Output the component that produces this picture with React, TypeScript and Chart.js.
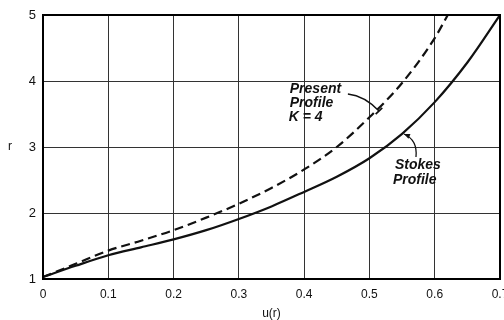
import React, { useEffect, useRef } from "react";
import { Chart, registerables } from "chart.js";

Chart.register(...registerables);

// x-axis: u(r), y-axis: r
const uTicks = [0, 0.1, 0.2, 0.3, 0.4, 0.5, 0.6, 0.7];
const uTickLabels = ["0", "0.1", "0.2", "0.3", "0.4", "0.5", "0.6", "0.7"];
const rTicks = [1, 2, 3, 4, 5];
const rTickLabels = ["1", "2", "3", "4", "5"];

// Stokes Profile (solid)
const stokesU = [0, 0.05, 0.1, 0.15, 0.2, 0.25, 0.3, 0.35, 0.4, 0.45, 0.5, 0.55, 0.6, 0.65, 0.7];
const stokesR = [1.03, 1.2, 1.36, 1.48, 1.6, 1.74, 1.91, 2.1, 2.32, 2.55, 2.83, 3.2, 3.68, 4.28, 5.0];

// Present Profile K = 4 (dashed)
const presentU = [0, 0.05, 0.1, 0.15, 0.2, 0.25, 0.3, 0.35, 0.4, 0.45, 0.5, 0.55, 0.6, 0.62];
const presentR = [1.03, 1.23, 1.43, 1.58, 1.74, 1.93, 2.14, 2.38, 2.66, 3.0, 3.45, 3.97, 4.65, 5.0];

// annotation texts and anchors (data units)
const presentLabel = ["Present", "Profile", "K = 4"];
const presentLabelAt = [0.378, 3.818];
const presentArrow = [0.467, 3.803, 0.493, 3.773, 0.5146, 3.545]; // start, control, end
const stokesLabel = ["Stokes", "Profile"];
const stokesLabelAt = [0.539, 2.667];
const stokesArrow = [0.5713, 2.848, 0.574, 3.106, 0.5529, 3.197];

const xTitle = "u(r)";
const yTitle = "r";

const FONT = '"Liberation Sans", Arial, "DejaVu Sans", sans-serif';

const decorPlugin = {
  id: "decor",
  afterDraw(chart: any) {
    const ctx = chart.ctx as CanvasRenderingContext2D;
    const a = chart.chartArea;
    const xs = chart.scales.x;
    const ys = chart.scales.y;
    const px = (u: number) => xs.getPixelForValue(u);
    const py = (r: number) => ys.getPixelForValue(r);
    ctx.save();
    // frame
    ctx.strokeStyle = "#000";
    ctx.lineWidth = 2;
    ctx.strokeRect(a.left, a.top, a.right - a.left, a.bottom - a.top);

    // axis titles
    ctx.fillStyle = "#111";
    ctx.font = `12px ${FONT}`;
    ctx.textAlign = "center";
    ctx.textBaseline = "middle";
    ctx.fillText(yTitle, 10, (a.top + a.bottom) / 2);
    ctx.fillText(xTitle, (a.left + a.right) / 2, 314);

    // annotation texts
    ctx.font = `italic bold 14px ${FONT}`;
    ctx.textAlign = "left";
    ctx.textBaseline = "alphabetic";
    const p0x = px(presentLabelAt[0]);
    const p0y = py(presentLabelAt[1]);
    presentLabel.forEach((t, i) => ctx.fillText(t, p0x + (i === 2 ? -1 : 0), p0y + i * 14));
    const s0x = px(stokesLabelAt[0]);
    const s0y = py(stokesLabelAt[1]);
    stokesLabel.forEach((t, i) => ctx.fillText(t, s0x - i * 2, s0y + i * 15));

    // present arrow with T-bar end
    ctx.strokeStyle = "#111";
    ctx.lineWidth = 1.3;
    let [sx, sy, cx, cy, ex, ey] = [
      px(presentArrow[0]), py(presentArrow[1]),
      px(presentArrow[2]), py(presentArrow[3]),
      px(presentArrow[4]), py(presentArrow[5]),
    ];
    ctx.beginPath();
    ctx.moveTo(sx, sy);
    ctx.quadraticCurveTo(cx, cy, ex, ey);
    ctx.stroke();
    let dx = ex - cx, dy = ey - cy;
    let L = Math.hypot(dx, dy);
    dx /= L; dy /= L;
    ctx.lineWidth = 1.8;
    ctx.beginPath();
    ctx.moveTo(ex - dy * 4.5, ey + dx * 4.5);
    ctx.lineTo(ex + dy * 4.5, ey - dx * 4.5);
    ctx.stroke();

    // stokes arrow with arrowhead
    [sx, sy, cx, cy, ex, ey] = [
      px(stokesArrow[0]), py(stokesArrow[1]),
      px(stokesArrow[2]), py(stokesArrow[3]),
      px(stokesArrow[4]), py(stokesArrow[5]),
    ];
    ctx.lineWidth = 1.3;
    ctx.beginPath();
    ctx.moveTo(sx, sy);
    ctx.quadraticCurveTo(cx, cy, ex, ey);
    ctx.stroke();
    dx = ex - cx; dy = ey - cy;
    L = Math.hypot(dx, dy);
    dx /= L; dy /= L;
    ctx.fillStyle = "#111";
    ctx.beginPath();
    ctx.moveTo(ex, ey);
    ctx.lineTo(ex - dx * 6 - dy * 2.5, ey - dy * 6 + dx * 2.5);
    ctx.lineTo(ex - dx * 6 + dy * 2.5, ey - dy * 6 - dx * 2.5);
    ctx.closePath();
    ctx.fill();
    ctx.restore();
  },
};

export default function App() {
  const ref = useRef<HTMLCanvasElement>(null);
  useEffect(() => {
    const chart = new Chart(ref.current as HTMLCanvasElement, {
      type: "line",
      data: {
        datasets: [
          {
            label: "Stokes Profile",
            data: stokesU.map((u, i) => ({ x: u, y: stokesR[i] })),
            borderColor: "#111",
            borderWidth: 2.2,
            pointRadius: 0,
            cubicInterpolationMode: "monotone",
            fill: false,
          },
          {
            label: "Present Profile K = 4",
            data: presentU.map((u, i) => ({ x: u, y: presentR[i] })),
            borderColor: "#111",
            borderWidth: 2.2,
            borderDash: [9, 5],
            pointRadius: 0,
            cubicInterpolationMode: "monotone",
            fill: false,
          },
        ],
      },
      options: {
        animation: false,
        responsive: false,
        devicePixelRatio: 1,
        layout: { padding: { top: 15, right: 4, left: 0, bottom: 0 } },
        plugins: { legend: { display: false }, tooltip: { enabled: false } },
        scales: {
          x: {
            type: "linear",
            min: 0,
            max: 0.7,
            afterFit: (s: any) => {
              s.height = 41;
              s.paddingLeft = 0;
              s.paddingRight = 0;
            },
            afterBuildTicks: (s: any) => {
              s.ticks = uTicks.map((v) => ({ value: v }));
            },
            ticks: {
              callback: (v: any) => uTickLabels[uTicks.findIndex((t) => Math.abs(t - v) < 1e-6)] ?? "",
              font: { size: 12, family: FONT },
              color: "#111",
              padding: 8,
              maxRotation: 0,
              autoSkip: false,
            },
            grid: { color: "#333", lineWidth: 1, drawTicks: false },
            border: { color: "#000", width: 2 },
          },
          y: {
            type: "linear",
            min: 1,
            max: 5,
            afterFit: (s: any) => {
              s.width = 43;
              s.paddingTop = 0;
              s.paddingBottom = 0;
            },
            afterBuildTicks: (s: any) => {
              s.ticks = rTicks.map((v) => ({ value: v }));
            },
            ticks: {
              callback: (v: any) => rTickLabels[rTicks.indexOf(v)] ?? "",
              font: { size: 13, family: FONT },
              color: "#111",
              padding: 7,
              autoSkip: false,
            },
            grid: { color: "#333", lineWidth: 1, drawTicks: false },
            border: { color: "#000", width: 2 },
          },
        },
      },
      plugins: [decorPlugin],
    } as any);
    return () => chart.destroy();
  }, []);
  return (
    <div style={{ position: "fixed", left: 0, top: 0, width: 504, height: 320, background: "#fff" }}>
      <canvas ref={ref} width={504} height={320} style={{ display: "block" }} />
    </div>
  );
}
